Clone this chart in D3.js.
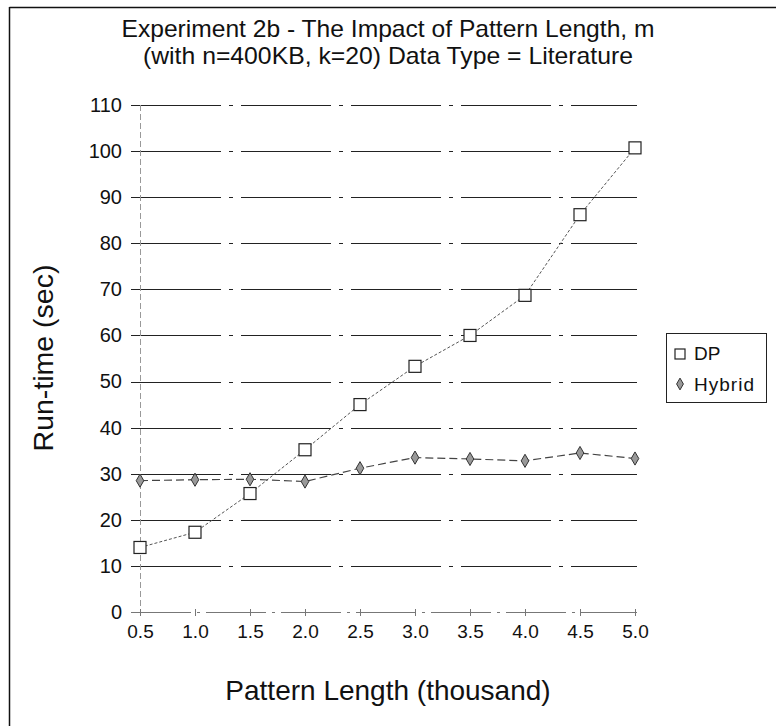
<!DOCTYPE html>
<html><head><meta charset="utf-8">
<script src="https://cdn.jsdelivr.net/npm/d3@7"></script>
<style>body{margin:0;background:#fff}svg{display:block}text{font-family:"Liberation Sans",Arial,sans-serif;fill:#111}</style>
</head><body><svg id="c" width="776" height="726"></svg>
<script>
const xValues = [0.5,1.0,1.5,2.0,2.5,3.0,3.5,4.0,4.5,5.0];
const xTickLabels = ["0.5","1.0","1.5","2.0","2.5","3.0","3.5","4.0","4.5","5.0"];
const dpValues = [14,17.3,25.7,35.2,45,53.3,60,68.7,86.2,100.7];
const hybridValues = [28.5,28.7,28.8,28.3,31.2,33.5,33.2,32.8,34.5,33.3];
const yTicks = [0,10,20,30,40,50,60,70,80,90,100,110];
const seriesNames = ["DP","Hybrid"];

const svg = d3.select("#c");
const x = d3.scaleLinear().domain([0.5,5.0]).range([140,635]);
const y = d3.scaleLinear().domain([0,110]).range([612,105]);

// frame
svg.append("line").attr("x1",9.5).attr("x2",776).attr("y1",7.5).attr("y2",7.5).attr("stroke","#111").attr("stroke-width",1.5);
svg.append("line").attr("x1",9.5).attr("x2",9.5).attr("y1",7).attr("y2",726).attr("stroke","#111").attr("stroke-width",1.5);

// title
svg.append("text").attr("x",388).attr("y",37).attr("text-anchor","middle").attr("font-size",24).attr("textLength",533).attr("lengthAdjust","spacingAndGlyphs").text("Experiment 2b - The Impact of Pattern Length, m");
svg.append("text").attr("x",388).attr("y",64).attr("text-anchor","middle").attr("font-size",24).attr("textLength",490).attr("lengthAdjust","spacingAndGlyphs").text("(with n=400KB, k=20) Data Type = Literature");

// gridlines
svg.append("g").selectAll("line").data(yTicks).join("line")
  .attr("x1",131).attr("x2",637).attr("y1",d=>Math.round(y(d))+0.5).attr("y2",d=>Math.round(y(d))+0.5)
  .attr("stroke",d=>d===0?"#777":"#222").attr("stroke-width",1).attr("stroke-dasharray",d=>d===0?"60,6,3,6":"90,8,4,8");

// y axis line
svg.append("line").attr("x1",140.5).attr("x2",140.5).attr("y1",y(110)).attr("y2",y(0)).attr("stroke","#999").attr("stroke-width",1).attr("stroke-dasharray","6,3");

// y axis labels
const yAxis = d3.axisLeft(y).tickValues(yTicks).tickSize(0).tickPadding(0);
const gy = svg.append("g").attr("transform","translate(122,0)").call(yAxis);
gy.select(".domain").remove();
gy.selectAll("text").attr("font-size",20).attr("font-family","Liberation Sans, Arial, sans-serif").attr("fill","#111");

// x axis labels
const xAxis = d3.axisBottom(x).tickValues(xValues).tickFormat((d,i)=>xTickLabels[i]).tickSize(0).tickPadding(0);
const gx = svg.append("g").attr("transform","translate(0,624)").call(xAxis);
gx.select(".domain").remove();
gx.selectAll("text").attr("font-size",19).attr("font-family","Liberation Sans, Arial, sans-serif").attr("fill","#111");
// small x tick marks
svg.append("g").selectAll("line").data(xValues).join("line")
  .attr("x1",d=>Math.round(x(d))+0.5).attr("x2",d=>Math.round(x(d))+0.5).attr("y1",y(0)-3).attr("y2",y(0)+4)
  .attr("stroke","#777").attr("stroke-width",1);

// axis titles
svg.append("text").attr("x",388).attr("y",700).attr("text-anchor","middle").attr("font-size",28).text("Pattern Length (thousand)");
svg.append("text").attr("transform","translate(53,358) rotate(-90)").attr("text-anchor","middle").attr("font-size",28.5).text("Run-time (sec)");

// lines
const line = d3.line().x((d,i)=>x(xValues[i])).y(d=>y(d));
svg.append("path").attr("d",line(dpValues)).attr("fill","none").attr("stroke","#555").attr("stroke-width",1).attr("stroke-dasharray","3,2");
svg.append("path").attr("d",line(hybridValues)).attr("fill","none").attr("stroke","#444").attr("stroke-width",1.2).attr("stroke-dasharray","8,4");

// markers
svg.append("g").selectAll("rect").data(dpValues).join("rect")
  .attr("x",(d,i)=>x(xValues[i])-6).attr("y",d=>y(d)-6).attr("width",12).attr("height",12)
  .attr("fill","#fff").attr("stroke","#222").attr("stroke-width",1.2);
const diamond = d3.symbol().type(d3.symbolDiamond).size(50);
svg.append("g").selectAll("path").data(hybridValues).join("path")
  .attr("transform",(d,i)=>`translate(${x(xValues[i])},${y(d)})`).attr("d",diamond)
  .attr("fill","#999").attr("stroke","#333").attr("stroke-width",1);

// legend
const lg = svg.append("g");
lg.append("rect").attr("x",666.5).attr("y",333.5).attr("width",100).attr("height",69).attr("fill","#fff").attr("stroke","#222").attr("stroke-width",1);
lg.append("rect").attr("x",675).attr("y",349).attr("width",10).attr("height",10).attr("fill","#fff").attr("stroke","#222").attr("stroke-width",1.2);
lg.append("text").attr("x",694).attr("y",360).attr("font-size",19).text(seriesNames[0]);
lg.append("path").attr("transform","translate(680,384)").attr("d",d3.symbol().type(d3.symbolDiamond).size(40)).attr("fill","#999").attr("stroke","#333");
lg.append("text").attr("x",694).attr("y",391).attr("font-size",19).attr("textLength",60).attr("lengthAdjust","spacing").text(seriesNames[1]);
</script></body></html>
